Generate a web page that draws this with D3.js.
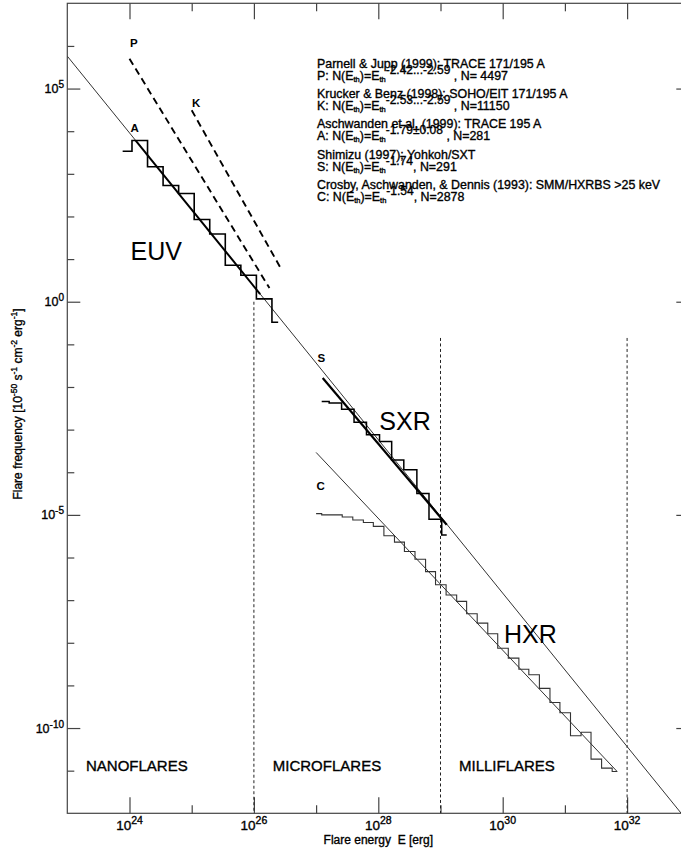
<!DOCTYPE html>
<html><head><meta charset="utf-8">
<script src="https://cdn.jsdelivr.net/npm/d3@7"></script>
<style>
html,body{margin:0;padding:0;background:#fff;}
svg{display:block;}
text{font-family:"Liberation Sans",Arial,Helvetica,sans-serif;fill:#000;}
.heavy{stroke:#000;stroke-width:0.35px;}
</style></head><body>
<svg id="chart" width="681" height="850"></svg>
<script>
// ---------- data (log10 values of energy [erg] and frequency) ----------
const xTickExps = [24, 26, 28, 30, 32];
const xMinorExps = [25, 27, 29, 31];
const yTickExps = [5, 0, -5, -10];
const yMinorExps = [6, 4, 3, 2, 1, -1, -2, -3, -4, -6, -7, -8, -9, -11];

// EUV (Aschwanden et al. 1999) histogram
const euvLogEdges = [23.89, 24.04, 24.29, 24.54, 24.79, 25.04, 25.29, 25.54, 25.79, 26.04, 26.29, 26.39];
const euvLogFreq  = [3.53, 3.78, 3.165, 2.725, 2.54, 1.93, 1.59, 0.855, 0.62, 0.066, -0.48];

// SXR (Shimizu 1997) histogram
const sxrLogEdges = [27.09, 27.21, 27.41, 27.61, 27.81, 28.02, 28.215, 28.41, 28.62, 28.815, 29.02, 29.10];
const sxrLogFreq  = [-2.34, -2.375, -2.52, -2.83, -3.12, -3.28, -3.71, -3.94, -4.5, -5.1, -5.47];

// HXR (Crosby et al. 1993) histogram
const hxrLogEdges = [27.00, 27.09, 27.26, 27.42, 27.59, 27.76, 27.92, 28.09, 28.26, 28.42, 28.59, 28.76, 28.92,
  29.09, 29.26, 29.42, 29.59, 29.76, 29.92, 30.09, 30.26, 30.42, 30.59, 30.76, 30.92, 31.09, 31.26, 31.42, 31.59, 31.76, 31.84];
const hxrLogFreq  = [-4.97, -5.00, -5.00, -5.05, -5.12, -5.18, -5.27, -5.49, -5.64, -5.86, -6.04, -6.33, -6.64, -6.88,
  -7.03, -7.32, -7.54, -7.79, -8.13, -8.36, -8.62, -8.75, -9.07, -9.40, -9.64, -10.18, -10.10, -10.73, -10.94, -11.02];

// power-law lines [logE, logN] endpoints
const refLineLogE = [23.0, 32.87], refLineLogN = [5.76, -12.0];
const aFitLogE = [24.1, 26.1],  aFitLogN = [3.78, 0.18];
const pFitLogE = [24.0, 26.25], pFitLogN = [5.70, 0.32];
const kFitLogE = [25.0, 26.43], kFitLogN = [4.49, 0.79];
const sFitLogE = [27.106, 29.10], sFitLogN = [-1.79, -5.23];
const cFitLogE = [27.0, 31.84], cFitLogN = [-3.535, -11.02];

// regime boundaries
const boundLogE = [26, 29, 32];
const boundTopLogN = [0, -0.85, -0.85];

const regionLabels = ["NANOFLARES", "MICROFLARES", "MILLIFLARES"];
const bandLabels = ["EUV", "SXR", "HXR"];
const fitKeys = ["P", "K", "A", "S", "C"];
const legendTitles = [
  "Parnell & Jupp (1999): TRACE 171/195 A",
  "Krucker & Benz (1998): SOHO/EIT 171/195 A",
  "Aschwanden et al. (1999): TRACE 195 A",
  "Shimizu (1997); Yohkoh/SXT",
  "Crosby, Aschwanden, & Dennis (1993): SMM/HXRBS >25 keV"];
const legendExps = ["-2.42...-2.59", "-2.53...-2.59", "-1.79\u00b10.08", "-1.74", "-1.54"];
const legendCounts = [" , N= 4497", " , N=11150", " , N=281", ", N=291", ", N=2878"];

// ---------- chart ----------
const svg = d3.select("#chart");
const p10 = v => Math.pow(10, v);
const x = d3.scaleLog().domain([1e23, 1e33]).range([67.3, 689.3]);
const y = d3.scaleLog().domain([1e-12, 1e7]).range([813.3, 3.3]);
const X = e => x(p10(e)), Y = n => y(p10(n));
const axisColor = "#444";

svg.append("defs").append("clipPath").attr("id", "plotclip")
  .append("rect").attr("x", x.range()[0]).attr("y", y.range()[1])
  .attr("width", x.range()[1] - x.range()[0]).attr("height", y.range()[0] - y.range()[1]);

// frame
svg.append("rect").attr("x", x.range()[0]).attr("y", y.range()[1])
  .attr("width", x.range()[1] - x.range()[0]).attr("height", y.range()[0] - y.range()[1])
  .attr("fill", "none").attr("stroke", axisColor).attr("stroke-width", 1.2);

function addAxis(axisFn, translate, vals, size) {
  const g = svg.append("g").attr("transform", translate)
    .call(axisFn.tickValues(vals.map(p10)).tickSizeInner(-size).tickSizeOuter(0).tickFormat(""));
  g.select(".domain").remove();
  g.selectAll("line").attr("stroke", axisColor).attr("stroke-width", 1.2);
}
const yb = y.range()[0], yt = y.range()[1], xl = x.range()[0], xr = x.range()[1];
addAxis(d3.axisBottom(x), `translate(0,${yb})`, xTickExps, 16);
addAxis(d3.axisBottom(x), `translate(0,${yb})`, xMinorExps, 8);
addAxis(d3.axisTop(x), `translate(0,${yt})`, xTickExps, 16);
addAxis(d3.axisTop(x), `translate(0,${yt})`, xMinorExps, 8);
addAxis(d3.axisLeft(y), `translate(${xl},0)`, yTickExps, 13);
addAxis(d3.axisLeft(y), `translate(${xl},0)`, yMinorExps, 7);
addAxis(d3.axisRight(y), `translate(${xr},0)`, yTickExps, 13);
addAxis(d3.axisRight(y), `translate(${xr},0)`, yMinorExps, 7);

// tick labels
xTickExps.forEach(e => {
  const t = svg.append("text").attr("class", "heavy").attr("x", X(e)).attr("y", 830).attr("text-anchor", "middle");
  t.append("tspan").attr("font-size", 13.5).text("10");
  t.append("tspan").attr("font-size", 10.5).attr("dy", -6).text(e);
});
yTickExps.forEach(e => {
  const t = svg.append("text").attr("class", "heavy").attr("x", 64).attr("y", Y(e) + 4.5).attr("text-anchor", "end");
  t.append("tspan").attr("font-size", 12.5).text("10");
  t.append("tspan").attr("font-size", 10).attr("dy", -5).text(e);
});

// axis titles
svg.append("text").attr("class", "heavy").attr("x", X(28)).attr("y", 844).attr("text-anchor", "middle")
  .attr("font-size", 12).attr("xml:space", "preserve").text("Flare energy  E [erg]");

const ytl = svg.append("text").attr("class", "heavy").attr("transform", "translate(22,404) rotate(-90)")
  .attr("text-anchor", "middle").attr("font-size", 12);
[["Flare frequency [10", 0], ["-50", 1], [" s", 0], ["-1", 1], [" cm", 0], ["-2", 1], [" erg", 0], ["-1", 1], ["]", 0]]
  .forEach(([s, sup], i, arr) => {
    const prevSup = i > 0 ? arr[i - 1][1] : 0;
    const dy = sup && !prevSup ? -5 : (!sup && prevSup ? 5 : 0);
    ytl.append("tspan").attr("font-size", sup ? 8.5 : 12).attr("dy", dy).text(s);
  });

const plot = svg.append("g").attr("clip-path", "url(#plotclip)");
const lineGen = d3.line().x(d => X(d[0])).y(d => Y(d[1]));
const pairs = (a, b) => a.map((v, i) => [v, b[i]]);
function steps(edges, levels) {
  const pts = [];
  levels.forEach((l, i) => { pts.push([edges[i], l]); pts.push([edges[i + 1], l]); });
  return pts;
}

// regime boundaries (dotted)
boundLogE.forEach((e, i) => {
  plot.append("line").attr("x1", X(e)).attr("x2", X(e))
    .attr("y1", Y(boundTopLogN[i])).attr("y2", yb)
    .attr("stroke", "#222").attr("stroke-width", 1).attr("stroke-dasharray", "3,2.5");
});

// reference power law and HXR fit (thin)
plot.append("path").attr("d", lineGen(pairs(refLineLogE, refLineLogN)))
  .attr("fill", "none").attr("stroke", "#333").attr("stroke-width", 1);
plot.append("path").attr("d", lineGen(pairs(cFitLogE, cFitLogN)))
  .attr("fill", "none").attr("stroke", "#333").attr("stroke-width", 1);

// histograms
plot.append("path").attr("d", lineGen(steps(hxrLogEdges, hxrLogFreq)))
  .attr("fill", "none").attr("stroke", "#333").attr("stroke-width", 1.1);
plot.append("path").attr("d", lineGen(steps(sxrLogEdges, sxrLogFreq)))
  .attr("fill", "none").attr("stroke", "#000").attr("stroke-width", 1.5);
plot.append("path").attr("d", lineGen(steps(euvLogEdges, euvLogFreq)))
  .attr("fill", "none").attr("stroke", "#000").attr("stroke-width", 1.6);

// thick fits
plot.append("path").attr("d", lineGen(pairs(aFitLogE, aFitLogN)))
  .attr("fill", "none").attr("stroke", "#000").attr("stroke-width", 2);
plot.append("path").attr("d", lineGen(pairs(sFitLogE, sFitLogN)))
  .attr("fill", "none").attr("stroke", "#000").attr("stroke-width", 2.2);

// dashed fits
[[pFitLogE, pFitLogN], [kFitLogE, kFitLogN]].forEach(([e, n]) => {
  plot.append("path").attr("d", lineGen(pairs(e, n)))
    .attr("fill", "none").attr("stroke", "#000").attr("stroke-width", 1.9).attr("stroke-dasharray", "7,4.5");
});

// fit key letters
const keyPos = [[130, 46.7], [192, 106.7], [130.5, 131.7], [317.5, 361.7], [316.5, 490]];
fitKeys.forEach((k, i) => {
  svg.append("text").attr("x", keyPos[i][0]).attr("y", keyPos[i][1])
    .attr("font-size", 11.5).attr("font-weight", "bold").text(k);
});

// band labels
const bandPos = [[130.5, 260], [379.3, 430], [504, 642.7]];
bandLabels.forEach((b, i) => {
  svg.append("text").attr("x", bandPos[i][0]).attr("y", bandPos[i][1]).attr("font-size", 25).text(b);
});

// regime labels
const regionX = [86, 272.8, 459];
regionLabels.forEach((r, i) => {
  svg.append("text").attr("class", "heavy").attr("x", regionX[i]).attr("y", 771).attr("font-size", 15).text(r);
});

// legend
legendTitles.forEach((title, i) => {
  const y0 = 68 + i * 30.2;
  svg.append("text").attr("class", "heavy").attr("x", 317).attr("y", y0).attr("font-size", 12.4).text(title);
  const t = svg.append("text").attr("class", "heavy").attr("x", 317).attr("y", y0 + 12).attr("font-size", 12.4);
  t.append("tspan").text(fitKeys[i] + ": N(E");
  t.append("tspan").attr("font-size", 7.5).attr("dy", 2).text("th");
  t.append("tspan").attr("dy", -2).text(")=E");
  t.append("tspan").attr("font-size", 7.5).attr("dy", 2).text("th");
  t.append("tspan").attr("font-size", 12).attr("dy", -8).text(legendExps[i]);
  t.append("tspan").attr("dy", 6).text(legendCounts[i]);
});
</script>
</body></html>
